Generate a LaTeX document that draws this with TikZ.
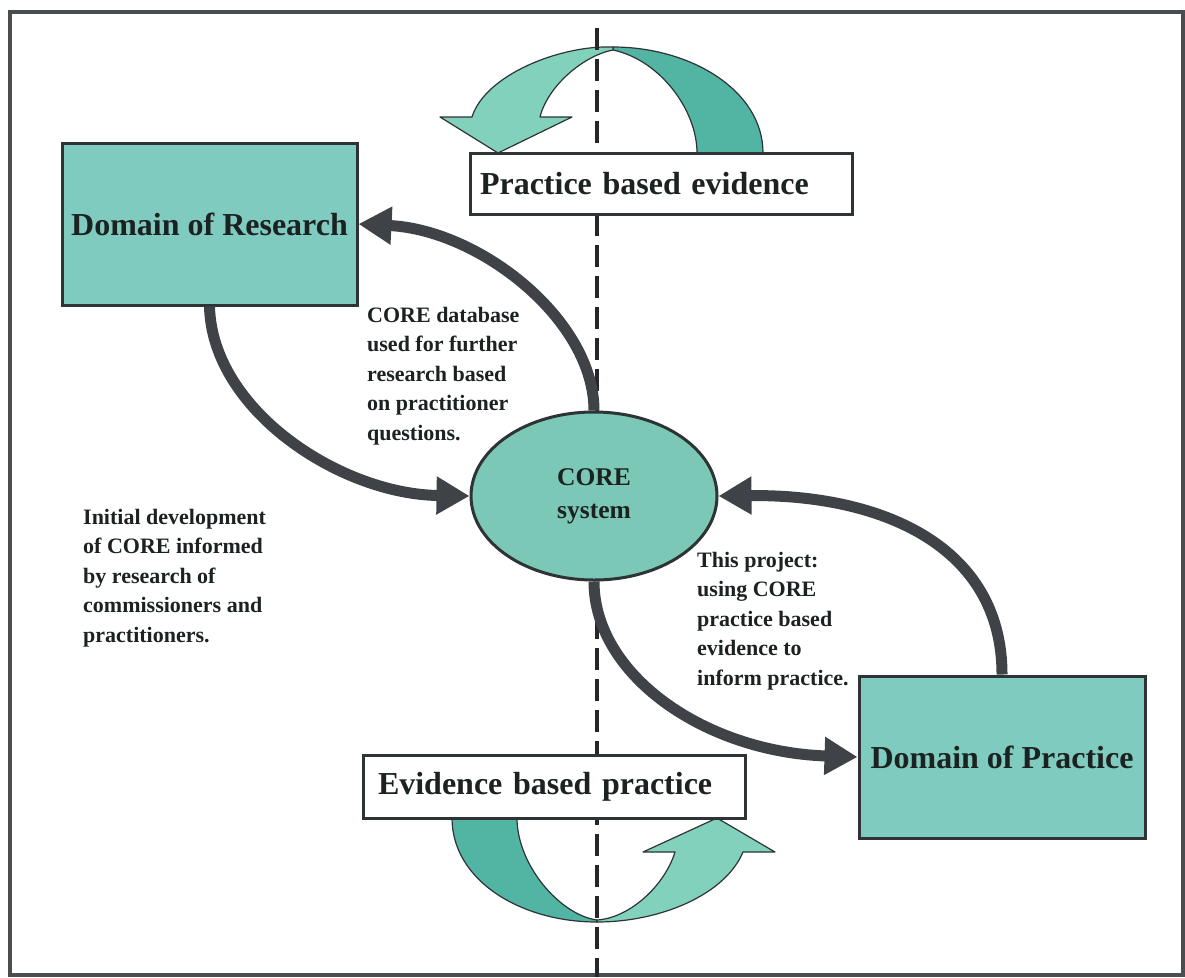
\documentclass[tikz,border=0pt]{standalone}
\usepackage{fontspec}
\setmainfont{Liberation Serif}
\usetikzlibrary{arrows.meta,shapes.geometric,calc}
\definecolor{boxfill}{HTML}{80CBBF}
\definecolor{ellfill}{HTML}{7AC8B5}
\definecolor{bandlight}{HTML}{82D1BC}
\definecolor{banddark}{HTML}{52B4A3}
\definecolor{conncol}{HTML}{3F4347}
\definecolor{edgecol}{HTML}{2E3336}
\definecolor{textdark}{HTML}{1C2222}
\definecolor{framecol}{HTML}{4A4D50}
\begin{document}
\begin{tikzpicture}[x=1pt,y=-1pt,
  dombox/.style={draw=edgecol, line width=3, fill=boxfill, rectangle, inner sep=0,
    font=\fontsize{32}{38}\selectfont\bfseries, text=textdark},
  labbox/.style={draw=edgecol, line width=3, fill=white, rectangle, inner ysep=0,
    font=\fontsize{32}{38}\selectfont\bfseries, text=textdark, align=left},
  coreell/.style={draw=edgecol, line width=3, fill=ellfill, ellipse, inner sep=0,
    font=\fontsize{25.5}{33}\selectfont\bfseries, text=textdark, align=center},
  note/.style={font=\fontsize{22}{29.5}\selectfont\bfseries, align=left, inner sep=0, text=textdark},
  conn/.style={draw=conncol, line width=11, line cap=butt,
    -{Triangle[length=33pt,width=36pt]}},
  bandL/.style={fill=bandlight, draw=edgecol, line width=1.2, line join=round},
  bandD/.style={fill=banddark, draw=edgecol, line width=1.2, line join=round},
  divider/.style={draw=black!85, line width=4, dash pattern=on 22pt off 9pt}
]
\useasboundingbox (0,0) rectangle (1185,977);
\fill[white] (0,0) rectangle (1185,977);
% frame
\draw[framecol, line width=4] (10,12) rectangle (1183,975);

% top curved band arrow (practice based evidence)
\path[bandD] (613,47) .. controls (690,47) and (763,90) .. (763,153)
  -- (697,153) .. controls (697,110) and (660,60) .. (613,50) -- cycle;
\path[bandL] (613,47) .. controls (560,45) and (485,75) .. (472,117)
  -- (440,117) -- (498,153) -- (572,117) -- (540,117)
  .. controls (548,85) and (585,55) .. (613,50) -- cycle;

% bottom curved band arrow (evidence based practice)
\path[bandD] (452,818) .. controls (452,880) and (520,922) .. (597,922)
  -- (597,920) .. controls (560,915) and (517,865) .. (517,818) -- cycle;
\path[bandL] (597,922) .. controls (660,922) and (725,895) .. (743,852)
  -- (775,852) -- (717,818) -- (643,852) -- (675,852)
  .. controls (665,885) and (630,918) .. (597,920) -- cycle;

% dashed divider
\coordinate (dtop) at (597,28);
\coordinate (dbot) at (597,977);
\draw[divider] (dtop) -- (dbot);

% nodes
\node[dombox, minimum width=295, minimum height=162] (R) at (209.5,224) {Domain of Research};
\node[dombox, minimum width=286, minimum height=162] (P) at (1002,757) {Domain of Practice};
\node[labbox, text width=362, inner xsep=10, minimum height=61] (PBE) at (661,183.5) {Practice based evidence};
\node[labbox, text width=352, inner xsep=15, minimum height=63] (EBP) at (554,786.5) {Evidence based practice};
\node[coreell, minimum width=246, minimum height=168] (C) at (594,496) {CORE\\system};

% connectors
\draw[conn] (R.south) .. controls (212,410) and (340,494) .. (C.west);
\draw[conn] (C.north) .. controls (594,320) and (480,230) .. (R.east);
\draw[conn] (P.north) .. controls (1002,545) and (880,494) .. (C.east);
\draw[conn] (C.south) .. controls (594,675) and (705,752) .. (P.west);

% notes
\node[note, anchor=north west] (n1) at (367,307) {CORE database\\used for further\\research based\\on practitioner\\questions.};
\node[note, anchor=north west] (n2) at (83,509) {Initial development\\of CORE informed\\by research of\\commissioners and\\practitioners.};
\node[note, anchor=north west] (n3) at (697,552) {This project:\\using CORE\\practice based\\evidence to\\inform practice.};
\end{tikzpicture}
\end{document}
